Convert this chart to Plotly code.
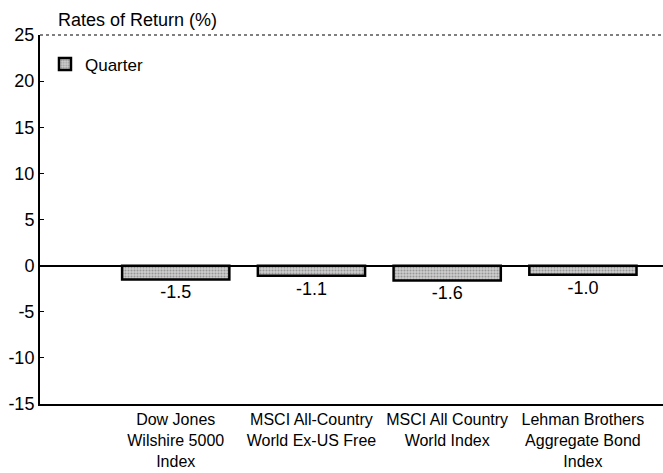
import plotly.graph_objects as go

categories = ["Dow Jones<br>Wilshire 5000<br>Index",
              "MSCI All-Country<br>World Ex-US Free",
              "MSCI All Country<br>World Index",
              "Lehman Brothers<br>Aggregate Bond<br>Index"]
quarter = [-1.5, -1.1, -1.6, -1.0]
quarter_labels = ["-1.5", "-1.1", "-1.6", "-1.0"]
y_ticks = [-15, -10, -5, 0, 5, 10, 15, 20, 25]
y_tick_labels = ["-15", "-10", "-5", "0", "5", "10", "15", "20", "25"]

FONT = "Liberation Sans Narrow, Arial Narrow, Liberation Sans, Arial"

fig = go.Figure()
fig.add_trace(go.Bar(
    x=categories, y=quarter, name="Quarter",
    text=quarter_labels, textposition="outside",
    textfont=dict(size=18, color="black", family=FONT),
    width=0.79,
    marker=dict(color="#bdbdbd",
                line=dict(color="black", width=2.5),
                pattern=dict(shape=".", fgcolor="#5e5e5e", bgcolor="#cfcfcf",
                             size=3, solidity=0.4)),
    cliponaxis=False,
))

fig.update_layout(
    width=663, height=473,
    margin=dict(l=40, r=0, t=35, b=69, autoexpand=False),
    paper_bgcolor="white", plot_bgcolor="white",
    font=dict(family=FONT, size=17, color="black"),
    showlegend=True,
    legend=dict(x=0.008, y=0.92, xanchor="left", yanchor="middle",
                font=dict(size=17, family=FONT), bgcolor="rgba(0,0,0,0)",
                itemwidth=30),
)
fig.add_annotation(text="Rates of Return (%)", xref="paper", yref="paper",
                   x=0.025, y=1.0, xanchor="left", yanchor="bottom", yshift=3,
                   showarrow=False, font=dict(size=18, family=FONT))

fig.update_xaxes(range=[-1.0, 3.59], showline=True, linecolor="black", linewidth=2,
                 ticks="", tickfont=dict(size=16, family=FONT), showgrid=False,
                 zeroline=False, automargin=False)
fig.update_yaxes(range=[-15, 25], tickvals=y_ticks, ticktext=y_tick_labels,
                 showline=True, linecolor="black",
                 linewidth=2, ticks="inside", ticklen=4, tickcolor="black",
                 tickfont=dict(size=18, family=FONT), showgrid=False,
                 zeroline=True, zerolinecolor="black", zerolinewidth=1.5,
                 automargin=False)

fig.add_shape(type="line", xref="paper", yref="paper", x0=0, x1=1, y0=1, y1=1,
              line=dict(color="#555555", width=1.5, dash="dot"))

fig.write_html("out.html", config={"displayModeBar": False},
               post_script="document.body.style.margin='0';document.body.style.overflow='hidden';")
